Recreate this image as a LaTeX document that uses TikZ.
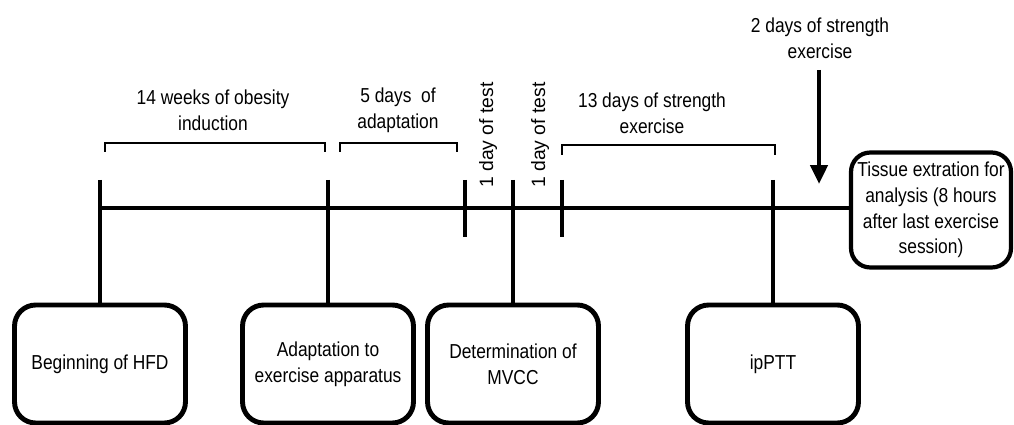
\documentclass[tikz,border=0pt]{standalone}
\usepackage{fontspec}
\setmainfont{Liberation Sans}
\newfontfamily\narrowfont[FakeStretch=0.86]{Liberation Sans}
\usetikzlibrary{positioning, arrows.meta}
\tikzset{
  stage/.style    = {draw, line width=2.8pt, rounded corners=12pt, minimum width=3.42cm,
                     minimum height=2.36cm, align=center, font=\narrowfont\fontsize{11.5}{14.7}\selectfont},
  endbox/.style   = {stage, line width=2.4pt, minimum width=3.2cm, minimum height=2.3cm,
                     rounded corners=11pt, inner sep=1pt},
  timeline/.style = {line width=2.4pt},
  tickline/.style = {line width=2.4pt},
  bracket/.style  = {line width=0.9pt},
  note/.style     = {align=center, font=\narrowfont\fontsize{11.5}{14.7}\selectfont},
  vnote/.style    = {rotate=90, font=\fontsize{11}{13}\selectfont},
  bigarrow/.style = {-{Triangle[length=3.8mm, width=3.4mm]}, line width=2.6pt},
}

\begin{document}
\begin{tikzpicture}[x=0.02cm, y=-0.02cm]
  \useasboundingbox (0,0) rectangle (1014,425);

  % boxes under the time line
  \node[stage]  at (100,364) (beg)    {Beginning of HFD};
  \node[stage]  at (328,364) (adapt)  {Adaptation to\\exercise apparatus};
  \node[stage]  at (513,364) (mvcc)   {Determination of\\MVCC};
  \node[stage]  at (773,364) (ipptt)  {ipPTT};
  \node[endbox] at (931,210) (tissue) {Tissue extration for\\analysis (8 hours\\after last exercise\\session)};

  % periods
  \node[note] at (213,110) (obesity)  {14 weeks of obesity\\induction};
  \node[note] at (398,110) (adaptlbl) {5 days \ of\\adaptation};
  \node[note] at (652,113) (strength) {13 days of strength\\exercise};
  \node[note] at (820,38)  (twodays)  {2 days of strength\\exercise};
  \node[vnote] at (488,135) (test1) {1 day of test};
  \node[vnote] at (540,135) (test2) {1 day of test};

  \coordinate (t0) at (100,208);
  \coordinate (k1) at (100,180);
  \coordinate (k2) at (328,180);
  \coordinate (k3) at (513,180);
  \coordinate (k4) at (773,180);
  \coordinate (s1) at (465,180);
  \coordinate (s1b) at (465,237);
  \coordinate (s2) at (562,180);
  \coordinate (s2b) at (562,237);
  \coordinate (arrtop) at (819,70);
  \coordinate (arrtip) at (819,184);

  \draw[timeline] (t0) -- (t0 -| tissue.west);
  \draw[tickline] (k1) -- (beg.north);
  \draw[tickline] (k2) -- (adapt.north);
  \draw[tickline] (k3) -- (mvcc.north);
  \draw[tickline] (k4) -- (ipptt.north);
  \draw[tickline] (s1) -- (s1b);
  \draw[tickline] (s2) -- (s2b);

  \draw[bracket] (105,152) -- (105,143) -- (325,143) -- (325,152);
  \draw[bracket] (340,152) -- (340,143) -- (457,143) -- (457,152);
  \draw[bracket] (562,155) -- (562,145) -- (775,145) -- (775,155);

  \draw[bigarrow] (arrtop) -- (arrtip);
\end{tikzpicture}
\end{document}
